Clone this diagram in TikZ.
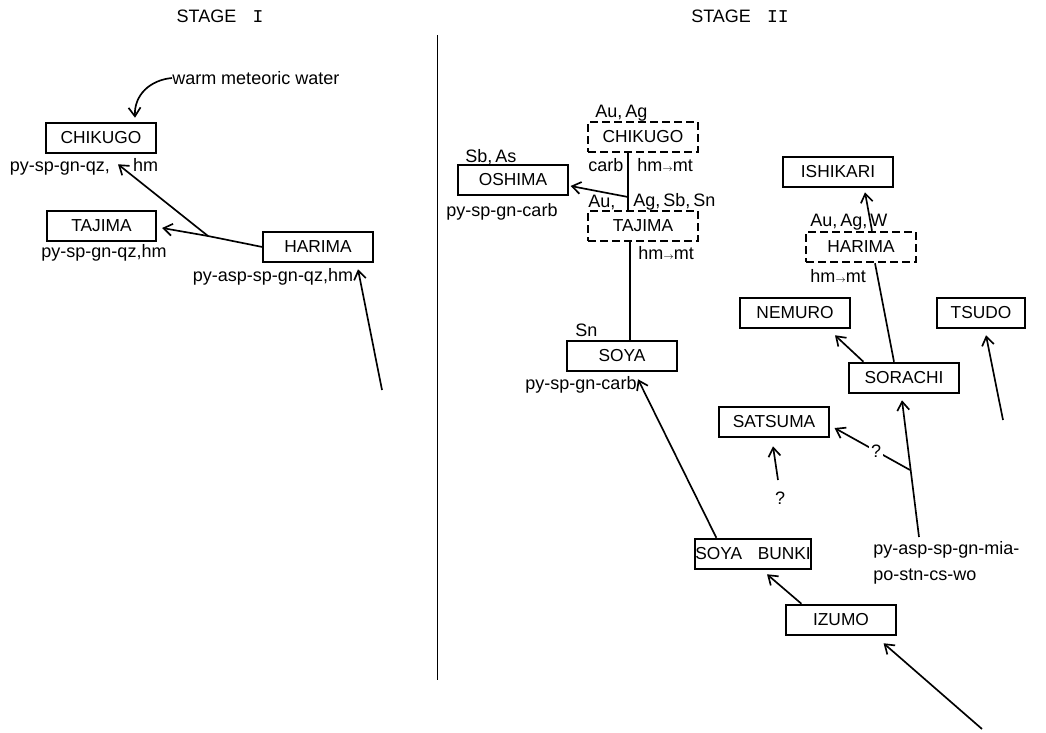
\documentclass[tikz,border=0pt]{standalone}
\usepackage{fontspec}
\setmainfont{Liberation Sans}
\newfontfamily\monof{Liberation Mono}
\usetikzlibrary{arrows.meta,calc}
\begin{document}
\begin{tikzpicture}[x=0.75pt,y=-0.75pt,
  box/.style={draw,line width=1.4pt,minimum width=82pt,minimum height=23pt,inner sep=1pt,font=\fontsize{13}{14}\selectfont},
  dbox/.style={box,dash pattern=on 6pt off 3pt},
  lbl/.style={font=\fontsize{13.5}{19.5}\selectfont,inner sep=0pt},
  stg/.style={font=\fontsize{13.5}{16}\selectfont,inner sep=0pt},
  conn/.style={line width=1.25pt},
  arr/.style={conn,-{Straight Barb[length=6.5pt,width=9pt,line width=1.25pt]}},
]
\useasboundingbox[fill=white] (0,0) rectangle (1046,732);
\newcommand{\hmmt}{hm{\scriptsize$\to$}mt}

% stage titles and divider
\node[stg] (st1) at (220,16) {STAGE\hspace{0.9em}{\monof I}};
\node[stg] (st2) at (740,16) {STAGE\hspace{0.9em}{\monof II}};
\coordinate (dtop) at (437,35);
\coordinate (dbot) at (437,680);
\draw[line width=0.6pt] (dtop) -- (dbot);

% ---------------- STAGE I ----------------
\node[lbl,anchor=west] (wmw) at (172,78) {warm meteoric water};
\node[box] (chik1) at (101,138) {CHIKUGO};
\draw[arr] (wmw.west) .. controls (150,80) and (134,95) .. ($(chik1.north)+(34,-4)$);
\node[lbl] (chik1l) at (84,167) {py-sp-gn-qz,\hspace{1.3em}hm};
\node[box] (taj1) at (101.5,226) {TAJIMA};
\node[lbl] (taj1l) at (104,253) {py-sp-gn-qz,hm};
\node[box] (har1) at (318,247) {HARIMA};
\node[lbl] (har1l) at (273,277) {py-asp-sp-gn-qz,hm};
\coordinate (j1) at (208,236);
\coordinate (h1src) at (382,390);
\draw[conn] (har1.west) -- (j1);
\draw[arr] (j1) -- ($(taj1.east)+(5,2)$);
\draw[arr] (j1) -- ($(chik1.south)+(17,10)$);
\draw[arr] (h1src) -- ($(har1.south)+(40,6)$);

% ---------------- STAGE II ----------------
\node[dbox] (chik2) at (643,137) {CHIKUGO};
\node[lbl,anchor=west] (chik2a) at (595,113) {Au,\,Ag};
\node[lbl,anchor=west] (chik2b) at (588,165) {carb};
\node[lbl,anchor=west] (chik2c) at (637,165) {\hmmt};

\node[dbox] (taj2) at (643,226) {TAJIMA};
\node[lbl,anchor=west] (taj2a) at (588,202) {Au,};
\node[lbl,anchor=west] (taj2b) at (633,202) {Ag,\,Sb,\,Sn};
\node[lbl,anchor=west] (taj2c) at (638,253) {\hmmt};
\coordinate (x628) at (628,0);
\coordinate (x630) at (630,0);
\coordinate (j2) at (628,197);
\draw[conn] (chik2.south -| x628) -- (taj2.north -| x628);

\node[box] (osh) at (513,180) {OSHIMA};
\node[lbl,anchor=west] (osha) at (465,157) {Sb,\,As};
\node[lbl] (oshb) at (502,212) {py-sp-gn-carb};
\draw[arr] (j2) -- ($(osh.east)+(2,6)$);

\node[box] (soya) at (622,356) {SOYA};
\node[lbl,anchor=west] (soyaa) at (575,330) {Sn};
\node[lbl] (soyab) at (581,385) {py-sp-gn-carb};
\draw[conn] (taj2.south -| x630) -- (soya.north -| x630);

\node[box,inner sep=0pt] (bunki) at (753,554) {SOYA\hspace{0.9em}BUNKI};
\draw[arr] ($(bunki.north west)+(22,0)$) -- ($(soya.south)+(16,7)$);

\node[box] (izumo) at (841,620) {IZUMO};
\draw[arr] ($(izumo.north west)+(16,0)$) -- ($(bunki.south)+(14,4)$);
\coordinate (izsrc) at (982,729);
\draw[arr] (izsrc) -- ($(izumo.south east)+(-13,7)$);

\node[box] (ishi) at (838,172) {ISHIKARI};
\node[dbox] (har2) at (861,247) {HARIMA};
\node[lbl,anchor=west] (har2a) at (810,222) {Au,\,Ag,\,W};
\node[lbl,anchor=west] (har2b) at (810,276) {\hmmt};
\draw[arr] ($(har2.north)+(11,0)$) -- ($(ishi.south)+(27,4)$);

\node[box] (nem) at (795,313) {NEMURO};
\node[box,minimum width=66pt] (tsudo) at (981,313) {TSUDO};
\node[box] (sor) at (904,378) {SORACHI};
\draw[conn] ($(sor.north)+(-10,0)$) -- ($(har2.south)+(14,0)$);
\draw[arr] ($(sor.north west)+(15,0)$) -- ($(nem.south)+(40,6)$);
\coordinate (tsrc) at (1003,420);
\draw[arr] (tsrc) -- ($(tsudo.south)+(5,6)$);

\node[box] (sats) at (774,422) {SATSUMA};
\coordinate (mtop) at (919,537);
\coordinate (j3) at (910,470);
\draw[arr] (mtop) -- ($(sor.south)+(-2,6)$);
\draw[arr] (j3) -- ($(sats.east)+(5,6)$) node[lbl,pos=0.45,fill=white,inner sep=1.5pt] (q1) {?};
\coordinate (ssrc) at (778,480);
\draw[arr] (ssrc) -- ($(sats.south)+(-1,8)$);
\node[lbl] (q2) at (780,498) {?};

\node[lbl,anchor=north west,align=left] (minl) at (873,541) {py-asp-sp-gn-mia-\\po-stn-cs-wo};
\end{tikzpicture}
\end{document}
